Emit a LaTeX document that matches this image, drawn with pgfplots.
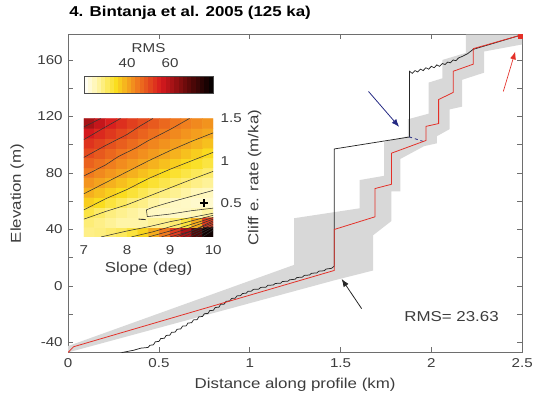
\documentclass[border=0pt]{standalone}
\usepackage{fontspec}
\setmainfont{Liberation Sans}[FakeStretch=1.18]
\usepackage{pgfplots}
\pgfplotsset{compat=1.18}
\usetikzlibrary{arrows.meta}
\definecolor{bandgray}{RGB}{216,216,216}
\definecolor{redline}{RGB}{228,48,40}
\definecolor{navyarrow}{RGB}{35,40,130}
\definecolor{txtgray}{RGB}{60,60,60}
\definecolor{axgray}{RGB}{110,110,110}
\pgfplotsset{
  colormap={rms}{rgb255(20)=(255,255,255) rgb255(26)=(255,246,175) rgb255(35)=(250,222,30) rgb255(45)=(240,122,30) rgb255(56)=(215,25,30) rgb255(68)=(100,10,10) rgb255(80)=(0,0,0)},
  /pgf/number format/assume math mode=true,
}
\newcommand{\tickfont}{\fontsize{13}{15}\selectfont}
\newcommand{\labfont}{\fontsize{14.5}{17}\selectfont}
\begin{document}
\begin{tikzpicture}
\path (-69pt,-48pt) rectangle (467pt,357pt);
% ---------------- main axis ----------------
\begin{axis}[
  at={(0pt,0pt)}, anchor=south west, scale only axis,
  width=460pt, height=322pt,
  xmin=0, xmax=2.5, ymin=-47, ymax=178,
  xtick={0,0.5,1,1.5,2,2.5},
  ytick={-40,0,40,80,120,160},
  minor ytick={-20,20,60,100,140},
  major tick length=5pt, minor tick length=5pt,
  tick align=inside,
  axis line style={axgray, line width=0.7pt},
  tick style={axgray, line width=0.6pt},
  xticklabel style={font=\tickfont, txtgray, yshift=-3pt},
  yticklabel style={font=\tickfont, txtgray, xshift=-2pt},
  xlabel={Distance along profile (km)},
  xlabel style={at={(axis description cs:0.5,0)}, anchor=base, yshift=-37pt, font=\labfont, txtgray},
  ylabel={Elevation (m)},
  ylabel style={at={(axis description cs:-0.104,0.5)}, anchor=base, font=\labfont, txtgray},
  title={4. Bintanja et al. 2005 (125 ka)},
  title style={at={(axis description cs:0,1)}, anchor=base west, inner sep=0pt, xshift=1pt, yshift=12pt, font=\bfseries\labfont},
]
% uncertainty band
\addplot[fill=bandgray, draw=none] coordinates {
 (0,-42.5) (1.245,15) (1.245,48) (1.605,55) (1.605,75) (1.74,78) (1.74,102)
 (1.87,106) (1.87,118) (1.985,122) (1.985,144) (2.06,147) (2.06,160) (2.19,165)
 (2.19,178) (2.5,178) (2.5,171) (2.29,166) (2.29,151) (2.17,146) (2.17,127)
 (2.10,125) (2.10,111) (2.03,106) (2.03,101) (1.96,99) (1.83,90) (1.83,67)
 (1.78,67) (1.78,46) (1.68,36) (1.68,11) (1.465,4) (0,-47)
};
% observed profile (black)
\addplot[black!85, line width=0.75pt] coordinates {
 (0.25,-50) (0.30,-47) (0.36,-45.5) (0.40,-44) (0.44,-43.5) (0.45,-42)
 (0.47,-41.6) (0.48,-39.5) (0.50,-39.2) (0.51,-37.2) (0.53,-37) (0.54,-35)
 (0.56,-34.8) (0.57,-32.8) (0.59,-32.6) (0.60,-30.6) (0.62,-30.4) (0.63,-28.4)
 (0.65,-28.2) (0.66,-26.2) (0.68,-26) (0.69,-24) (0.71,-23.8) (0.72,-21.8)
 (0.74,-21.6) (0.75,-19.6) (0.77,-19.4) (0.78,-17.4) (0.80,-17.2) (0.81,-15.2)
 (0.83,-15) (0.84,-13) (0.86,-12.8) (0.87,-10.8) (0.89,-10.6) (0.90,-8.8)
 (0.92,-8.6) (0.93,-7) (0.95,-6.8) (0.96,-5.3) (0.98,-5.1) (0.99,-3.8)
 (1.01,-3.6) (1.02,-2.4) (1.05,-2.2) (1.06,-1) (1.09,-0.8) (1.10,0.5)
 (1.13,0.7) (1.14,1.8) (1.17,2) (1.18,3.2) (1.21,3.4) (1.22,4.4)
 (1.25,4.8) (1.26,6) (1.29,6.3) (1.30,7.5) (1.33,7.8) (1.34,9)
 (1.37,9.3) (1.38,10.5) (1.41,10.8) (1.42,12) (1.45,12.5) (1.465,14)
 (1.465,97) (1.88,105.5) (1.88,152) (1.895,150.5) (1.91,152.5) (1.925,151.5)
 (1.94,153.5) (1.955,152.5) (1.97,154.5) (1.985,153.5) (2.0,155.5) (2.015,154.5)
 (2.03,156.5) (2.045,155.5) (2.06,157.5) (2.075,156.8) (2.09,158.5) (2.105,158)
 (2.12,160) (2.135,159.5) (2.15,161.5) (2.17,162.5) (2.2,164.5) (2.23,167.5) (2.49,177.5)
};
\addplot[navyarrow, dashed, line width=0.8pt] coordinates {(1.878,105.6) (1.96,102.1)};
% model profile (red)
\addplot[redline, line width=0.8pt] coordinates {
 (0,-47) (0.03,-43) (1.465,11) (1.465,40) (1.69,49) (1.69,69) (1.78,72) (1.78,94)
 (1.97,103) (1.97,113) (2.04,115) (2.04,132) (2.12,137) (2.12,152) (2.23,157)
 (2.23,168) (2.49,177.5)
};
\addplot[redline, only marks, mark=square*, mark size=2.2pt] coordinates {(2.488,176.8)};
% arrows
\draw[navyarrow, line width=0.8pt, -{Latex[length=8pt,width=6pt]}] (axis cs:1.654,137.7) -- (axis cs:1.823,112.6);
\draw[black!85, line width=0.8pt, -{Latex[length=8pt,width=6pt]}] (axis cs:1.616,-16) -- (axis cs:1.506,5);
\draw[redline, line width=0.7pt, -{Latex[length=8pt,width=6pt]}] (axis cs:2.396,137.7) -- (axis cs:2.462,166);
\node[anchor=base west, inner sep=0pt, font=\labfont, txtgray] at (axis cs:1.85,-25.2) {RMS= 23.63};
\end{axis}
% ---------------- inset heat map ----------------
\begin{axis}[
  at={(16pt,117pt)}, anchor=south west, scale only axis,
  width=131pt, height=120pt,
  xmin=7, xmax=10, ymin=0.1, ymax=1.5,
  xtick={7,8,9,10}, ytick={0.5,1,1.5},
  yticklabel pos=right,
  axis line style={draw=none}, major tick length=0pt,
  point meta min=20, point meta max=80,
  colormap name=rms,
  xticklabel style={font=\tickfont, txtgray, yshift=-5pt},
  yticklabel style={font=\tickfont, txtgray, xshift=4pt},
  xlabel={Slope (deg)},
  xlabel style={at={(axis description cs:0.5,0)}, anchor=base, yshift=-36pt, font=\labfont, txtgray},
  ylabel={Cliff e. rate (m/ka)},
  ylabel style={at={(axis description cs:1.35,0.5)}, anchor=base, font=\labfont, txtgray},
]
\addplot[matrix plot*, mesh/cols=12, point meta=explicit] table[meta=c] {
x y c
7.125 0.15833 28.5
7.375 0.15833 29
7.625 0.15833 30
7.875 0.15833 31
8.125 0.15833 33
8.375 0.15833 36
8.625 0.15833 40
8.875 0.15833 45
9.125 0.15833 52
9.375 0.15833 60
9.625 0.15833 70
9.875 0.15833 78
7.125 0.275 29.5
7.375 0.275 28.5
7.625 0.275 27.5
7.875 0.275 26.5
8.125 0.275 26.5
8.375 0.275 26.5
8.625 0.275 27.5
8.875 0.275 28
9.125 0.275 30
9.375 0.275 33
9.625 0.275 40
9.875 0.275 52
7.125 0.39167 32.6
7.375 0.39167 30.5
7.625 0.39167 29
7.875 0.39167 28
8.125 0.39167 27
8.375 0.39167 26
8.625 0.39167 24.5
8.875 0.39167 24.2
9.125 0.39167 24.3
9.375 0.39167 24.5
9.625 0.39167 25.5
9.875 0.39167 27
7.125 0.50833 36.6
7.375 0.50833 35.1
7.625 0.50833 33
7.875 0.50833 31.2
8.125 0.50833 29.5
8.375 0.50833 28.5
8.625 0.50833 26.8
8.875 0.50833 25.6
9.125 0.50833 24.5
9.375 0.50833 24.3
9.625 0.50833 23.8
9.875 0.50833 23.6
7.125 0.625 39.6
7.375 0.625 38.1
7.625 0.625 36.6
7.875 0.625 35.2
8.125 0.625 33.4
8.375 0.625 31.7
8.625 0.625 30.1
8.875 0.625 29.0
9.125 0.625 27.8
9.375 0.625 26.7
9.625 0.625 25.3
9.875 0.625 24.8
7.125 0.74167 42.4
7.375 0.74167 40.9
7.625 0.74167 39.5
7.875 0.74167 38.1
8.125 0.74167 36.6
8.375 0.74167 35.2
8.625 0.74167 33.7
8.875 0.74167 32.2
9.125 0.74167 30.8
9.375 0.74167 29.6
9.625 0.74167 28.5
9.875 0.74167 27.5
7.125 0.85833 45.1
7.375 0.85833 43.5
7.625 0.85833 42.1
7.875 0.85833 40.8
8.125 0.85833 39.5
8.375 0.85833 38.0
8.625 0.85833 36.7
8.875 0.85833 35.3
9.125 0.85833 33.9
9.375 0.85833 32.5
9.625 0.85833 31.3
9.875 0.85833 30.2
7.125 0.975 47.7
7.375 0.975 46.1
7.625 0.975 44.6
7.875 0.975 43.2
8.125 0.975 41.9
8.375 0.975 40.7
8.625 0.975 39.4
8.875 0.975 38.0
9.125 0.975 36.7
9.375 0.975 35.4
9.625 0.975 34.3
9.875 0.975 32.8
7.125 1.09167 50.4
7.375 1.09167 48.75
7.625 1.09167 47.2
7.875 1.09167 45.6
8.125 1.09167 44.2
8.375 1.09167 42.9
8.625 1.09167 41.7
8.875 1.09167 40.5
9.125 1.09167 39.4
9.375 1.09167 38.0
9.625 1.09167 36.7
9.875 1.09167 35.4
7.125 1.20833 53.1
7.375 1.20833 51.4
7.625 1.20833 49.7
7.875 1.20833 48.2
8.125 1.20833 46.6
8.375 1.20833 45.1
8.625 1.20833 43.8
8.875 1.20833 42.6
9.125 1.20833 41.5
9.375 1.20833 40.6
9.625 1.20833 39.3
9.875 1.20833 38.0
7.125 1.325 56.3
7.375 1.325 54.2
7.625 1.325 52.5
7.875 1.325 50.8
8.125 1.325 49.2
8.375 1.325 47.6
8.625 1.325 46.1
8.875 1.325 44.7
9.125 1.325 43.5
9.375 1.325 42.4
9.625 1.325 41.4
9.875 1.325 40.5
7.125 1.44167 61
7.375 1.44167 58
7.625 1.44167 55.2
7.875 1.44167 53.5
8.125 1.44167 51.7
8.375 1.44167 50.1
8.625 1.44167 48.6
8.875 1.44167 47
9.125 1.44167 45.5
9.375 1.44167 44.4
9.625 1.44167 43.5
9.875 1.44167 42.5
};
% contour lines
\addplot[black!80, line width=0.55pt] coordinates {(7,1.40) (7.2,1.45) (7.39,1.5)};
\addplot[black!80, line width=0.55pt] coordinates {(7,1.25) (7.4,1.37) (7.85,1.5)};
\addplot[black!80, line width=0.55pt] coordinates {(7,1.04) (7.5,1.18) (8.0,1.31) (8.3,1.41) (8.6,1.5)};
\addplot[black!80, line width=0.55pt] coordinates {(7,0.82) (7.5,0.95) (7.8,1.05) (8.2,1.15) (8.5,1.24) (9.0,1.37) (9.45,1.5)};
\addplot[black!80, line width=0.55pt] coordinates {(7,0.61) (7.5,0.74) (8.0,0.87) (8.5,1.0) (9.0,1.12) (9.5,1.23) (10,1.33)};
\addplot[black!80, line width=0.55pt] coordinates {(7,0.42) (7.5,0.55) (8.0,0.66) (8.5,0.79) (9.0,0.9) (9.5,1.0) (10,1.10)};
\addplot[black!80, line width=0.55pt] coordinates {(7,0.31) (7.5,0.40) (8.0,0.48) (8.5,0.58) (9.0,0.68) (9.5,0.78) (10,0.875)};
\addplot[black!80, line width=0.55pt] coordinates {(10,0.65) (9.5,0.58) (9.0,0.51) (8.6,0.45) (8.45,0.42) (8.47,0.34) (9.0,0.37) (9.5,0.41) (10,0.44)};
\addplot[black!80, line width=0.9pt] coordinates {(8.27,0.31) (8.43,0.305)};
\addplot[black!80, line width=0.55pt] coordinates {(7.4,0.1) (8.0,0.17) (8.5,0.22) (9.0,0.28) (9.5,0.33) (10,0.38)};
\addplot[black!80, line width=0.55pt] coordinates {(8.1,0.1) (8.6,0.16) (9.0,0.22) (9.5,0.29) (10,0.355)};
\addplot[black!80, line width=0.55pt] coordinates {(8.5,0.1) (9.0,0.17) (9.5,0.25) (10,0.33)};
\addplot[black!80, line width=0.55pt] coordinates {(8.8,0.1) (9.3,0.18) (10,0.31)};
\addplot[black!80, line width=0.55pt] coordinates {(9.0,0.1) (9.5,0.17) (10,0.29)};
\addplot[black!80, line width=0.55pt] coordinates {(9.15,0.1) (10,0.27)};
\addplot[black!80, line width=0.55pt] coordinates {(9.3,0.1) (10,0.25)};
\addplot[black!80, line width=0.55pt] coordinates {(9.45,0.1) (10,0.23)};
\addplot[black!80, line width=0.55pt] coordinates {(9.6,0.1) (10,0.21)};
\addplot[black!80, line width=0.55pt] coordinates {(9.75,0.1) (10,0.18)};
\addplot[black, only marks, mark=+, mark size=4pt, line width=1.6pt] coordinates {(9.78,0.5)};
\end{axis}
% ---------------- colour bar ----------------
\begin{axis}[
  at={(16pt,262pt)}, anchor=south west, scale only axis,
  width=131pt, height=18pt,
  xmin=20, xmax=80, ymin=0, ymax=1,
  xtick={40,60}, ytick=\empty,
  xticklabel pos=upper, major tick length=0pt,
  axis on top,
  axis line style={black!70, line width=0.7pt},
  point meta min=20, point meta max=80,
  colormap name=rms,
  xticklabel style={font=\tickfont, txtgray, yshift=5pt},
  xlabel={RMS},
  xlabel style={at={(axis description cs:0.5,1)}, anchor=base, yshift=24pt, font=\tickfont, txtgray},
]
\addplot[matrix plot*, mesh/cols=30, point meta=explicit] table[meta=c] {
x y c
21 0.25 21
23 0.25 23
25 0.25 25
27 0.25 27
29 0.25 29
31 0.25 31
33 0.25 33
35 0.25 35
37 0.25 37
39 0.25 39
41 0.25 41
43 0.25 43
45 0.25 45
47 0.25 47
49 0.25 49
51 0.25 51
53 0.25 53
55 0.25 55
57 0.25 57
59 0.25 59
61 0.25 61
63 0.25 63
65 0.25 65
67 0.25 67
69 0.25 69
71 0.25 71
73 0.25 73
75 0.25 75
77 0.25 77
79 0.25 79
21 0.75 21
23 0.75 23
25 0.75 25
27 0.75 27
29 0.75 29
31 0.75 31
33 0.75 33
35 0.75 35
37 0.75 37
39 0.75 39
41 0.75 41
43 0.75 43
45 0.75 45
47 0.75 47
49 0.75 49
51 0.75 51
53 0.75 53
55 0.75 55
57 0.75 57
59 0.75 59
61 0.75 61
63 0.75 63
65 0.75 65
67 0.75 67
69 0.75 69
71 0.75 71
73 0.75 73
75 0.75 75
77 0.75 77
79 0.75 79
};
\end{axis}
\end{tikzpicture}
\end{document}
